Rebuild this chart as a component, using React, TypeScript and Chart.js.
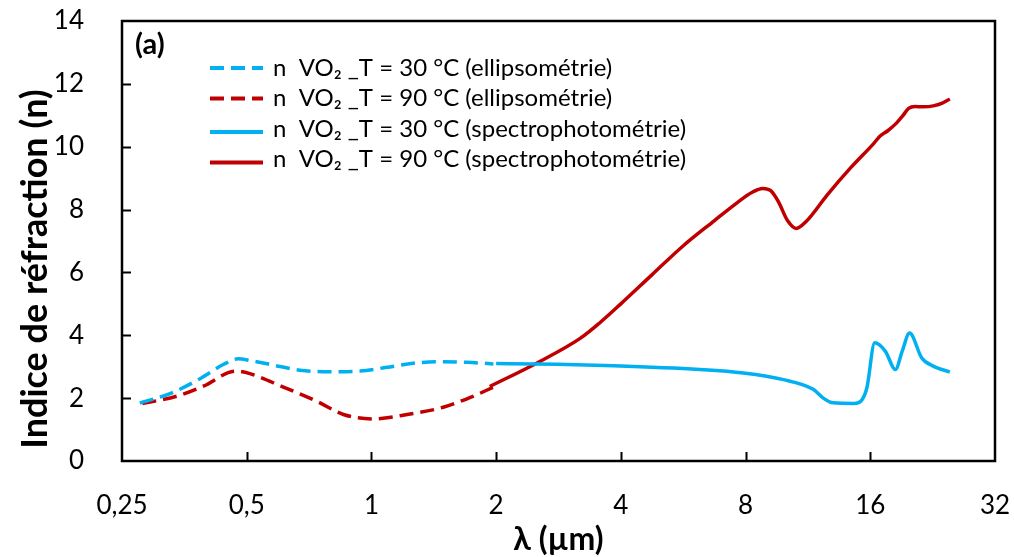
import React, { useEffect, useRef } from "react";
import { Chart, registerables } from "chart.js";

Chart.register(...registerables);

// ---- axis ticks ----
const xTickValues = [0.25, 0.5, 1, 2, 4, 8, 16, 32];
const yTickMin = 0;
const yTickMax = 14;
const yTickStep = 2;

// ---- series: ellipsometry (dashed) ----
const lambdaEllip30 = [0.276, 0.33, 0.386, 0.439, 0.477, 0.509, 0.58, 0.672, 0.794, 0.939, 1.09, 1.26, 1.46, 1.7, 1.97];
const nEllip30 = [1.84, 2.17, 2.62, 3.07, 3.25, 3.2, 3.05, 2.89, 2.84, 2.86, 2.98, 3.11, 3.16, 3.14, 3.09];

const lambdaEllip90 = [0.28, 0.339, 0.393, 0.47, 0.509, 0.613, 0.738, 0.856, 1.01, 1.22, 1.49, 1.76, 1.97];
const nEllip90 = [1.83, 2.06, 2.38, 2.86, 2.78, 2.35, 1.9, 1.48, 1.34, 1.48, 1.71, 2.06, 2.35];

// ---- series: spectrophotometry (solid) ----
const lambdaSpec30 = [2.0, 2.51, 3.84, 6.2, 7.9, 9.87, 11.65, 12.3, 13.0, 14.6, 15.3, 15.7, 16.4, 17.4, 18.4, 19.1, 19.9, 21.3, 22.7, 24.9];
const nSpec30 = [3.1, 3.09, 3.03, 2.91, 2.8, 2.59, 2.28, 2.01, 1.85, 1.83, 1.96, 2.33, 3.76, 3.49, 2.91, 3.49, 4.07, 3.28, 3.02, 2.83];

const lambdaSpec90 = [1.93, 2.51, 3.19, 3.56, 4.0, 4.76, 5.66, 6.73, 7.6, 8.3, 8.8, 9.2, 9.6, 10.1, 10.6, 11.2, 12.6, 14.3, 16.3, 16.9, 17.6, 18.5, 19.2, 19.8, 20.5, 21.5, 22.7, 23.8, 24.9];
const nSpec90 = [2.37, 3.12, 3.9, 4.4, 5.0, 5.93, 6.85, 7.65, 8.2, 8.55, 8.67, 8.6, 8.25, 7.65, 7.4, 7.62, 8.47, 9.31, 10.1, 10.34, 10.5, 10.75, 11.0, 11.22, 11.28, 11.27, 11.3, 11.38, 11.52];

const seriesLabels = [
  "n  VO\u2082 _T = 30 °C (ellipsométrie)",
  "n  VO\u2082 _T = 90 °C (ellipsométrie)",
  "n  VO\u2082 _T = 30 °C (spectrophotométrie)",
  "n  VO\u2082 _T = 90 °C (spectrophotométrie)",
];
const panelLabel = "(a)";
const xTitle = "λ (µm)";
const yTitle = "Indice de réfraction (n)";

const BLUE = "#00B0F0";
const RED = "#C00000";
const FONT = "Lato, 'Open Sans', 'DejaVu Sans', sans-serif";

const pts = (xs: number[], ys: number[]) => xs.map((x, i) => ({ x, y: ys[i] }));

export default function App() {
  const ref = useRef<HTMLCanvasElement>(null);

  useEffect(() => {
    document.body.style.margin = "0";
    const canvas = ref.current;
    if (!canvas) return;

    const framePlugin = {
      id: "framePlugin",
      afterDraw(chart: any) {
        const { ctx, chartArea } = chart;
        const { left, right, top, bottom } = chartArea;
        ctx.save();
        ctx.strokeStyle = "#000";
        ctx.lineWidth = 2.5;
        ctx.strokeRect(left, top, right - left, bottom - top);
        // inward ticks
        ctx.lineWidth = 2;
        const ys = chart.scales.y;
        ys.ticks.forEach((t: any) => {
          if (t.value <= yTickMin || t.value >= yTickMax) return;
          const py = Math.round(ys.getPixelForValue(t.value)) + 0.5;
          ctx.beginPath();
          ctx.moveTo(left, py);
          ctx.lineTo(left + 9, py);
          ctx.stroke();
        });
        const xs = chart.scales.x;
        xs.ticks.forEach((t: any) => {
          if (t.value <= xTickValues[0] || t.value >= xTickValues[xTickValues.length - 1]) return;
          const px = Math.round(xs.getPixelForValue(t.value)) + 0.5;
          ctx.beginPath();
          ctx.moveTo(px, bottom);
          ctx.lineTo(px, bottom - 9);
          ctx.stroke();
        });
        // y-axis title
        ctx.save();
        ctx.fillStyle = "#000";
        ctx.font = `bold 36px ${FONT}`;
        ctx.textAlign = "center";
        ctx.textBaseline = "middle";
        ctx.translate(35, 269);
        ctx.rotate(-Math.PI / 2);
        ctx.fillText(yTitle, 0, 0);
        ctx.restore();
        ctx.restore();
      },
    };

    const legendPlugin = {
      id: "insideLegend",
      afterDraw(chart: any) {
        const { ctx, chartArea } = chart;
        const { left, top } = chartArea;
        ctx.save();
        ctx.fillStyle = "#000";
        ctx.textBaseline = "middle";
        ctx.textAlign = "left";
        ctx.font = `bold 29px ${FONT}`;
        ctx.fillText(panelLabel, left + 13, top + 24);
        ctx.font = `24px ${FONT}`;
        chart.data.datasets.forEach((ds: any, i: number) => {
          const cy = top + 47 + i * 30.5;
          ctx.strokeStyle = ds.borderColor;
          ctx.lineWidth = 4;
          ctx.setLineDash(ds.borderDash || []);
          ctx.beginPath();
          ctx.moveTo(left + 88, cy + (i >= 2 ? 3 : 0));
          ctx.lineTo(left + 141, cy + (i >= 2 ? 3 : 0));
          ctx.stroke();
          ctx.setLineDash([]);
          ctx.fillText(ds.label, left + 151, cy);
        });
        ctx.restore();
      },
    };

    const mk = (label: string, xs: number[], ys: number[], color: string, dashed: boolean) => ({
      label,
      data: pts(xs, ys),
      borderColor: color,
      backgroundColor: color,
      borderWidth: 3.5,
      borderDash: dashed ? [14, 7] : [],
      pointRadius: 0,
      fill: false,
      cubicInterpolationMode: "monotone" as const,
    });

    const chart = new Chart(canvas, {
      type: "line",
      data: {
        datasets: [
          mk(seriesLabels[0], lambdaEllip30, nEllip30, BLUE, true),
          mk(seriesLabels[1], lambdaEllip90, nEllip90, RED, true),
          mk(seriesLabels[2], lambdaSpec30, nSpec30, BLUE, false),
          mk(seriesLabels[3], lambdaSpec90, nSpec90, RED, false),
        ],
      },
      options: {
        animation: false,
        responsive: true,
        maintainAspectRatio: false,
        layout: { padding: { left: 0, right: 19, top: 21, bottom: 0 } },
        plugins: { legend: { display: false }, tooltip: { enabled: false } },
        scales: {
          x: {
            type: "logarithmic",
            min: xTickValues[0],
            max: xTickValues[xTickValues.length - 1],
            grid: { display: false },
            border: { display: false },
            afterBuildTicks: (scale: any) => {
              scale.ticks = xTickValues.map((v) => ({ value: v }));
            },
            afterFit: (scale: any) => {
              scale.height = 96;
              scale.paddingLeft = 0;
              scale.paddingRight = 0;
            },
            ticks: {
              autoSkip: false,
              maxRotation: 0,
              padding: 21,
              color: "#000",
              font: { family: FONT, size: 26 },
              callback: (v: any) => String(v).replace(".", ","),
            },
            title: {
              display: true,
              text: xTitle,
              color: "#000",
              font: { family: FONT, size: 32, weight: "bold", lineHeight: 1.0 },
              padding: { top: 0, bottom: 1 },
            },
          },
          y: {
            type: "linear",
            min: yTickMin,
            max: yTickMax,
            grid: { display: false },
            border: { display: false },
            afterFit: (scale: any) => {
              scale.width = 122;
              scale.paddingTop = 0;
              scale.paddingBottom = 0;
            },
            ticks: {
              stepSize: yTickStep,
              padding: 30,
              color: "#000",
              font: { family: FONT, size: 26 },
            },
            title: { display: false },
          },
        },
      },
      plugins: [framePlugin, legendPlugin],
    });

    return () => chart.destroy();
  }, []);

  return (
    <div style={{ width: 1014, height: 557, position: "relative" }}>
      <canvas ref={ref} />
    </div>
  );
}
